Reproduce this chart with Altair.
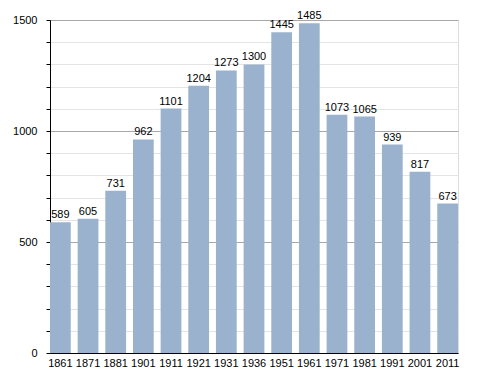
import altair as alt
import pandas as pd

years = ["1861", "1871", "1881", "1901", "1911", "1921", "1931", "1936", "1951", "1961",
         "1971", "1981", "1991", "2001", "2011"]
population = [589, 605, 731, 962, 1101, 1204, 1273, 1300, 1445, 1485,
              1073, 1065, 939, 817, 673]
y_ticks = list(range(0, 1501, 100))

df = pd.DataFrame({"year": years, "pop": population})

FONT = "Liberation Sans"

x = alt.X("year:N", sort=years, title=None,
          scale=alt.Scale(paddingInner=0.25, paddingOuter=0),
          axis=alt.Axis(labelAngle=0, ticks=False, domainColor="#000000",
                        labelFont=FONT, labelFontSize=11, labelColor="#000000",
                        labelPadding=4, labelOverlap=False))
y = alt.Y("pop:Q", title=None,
          scale=alt.Scale(domain=[0, 1500], nice=False),
          axis=alt.Axis(values=y_ticks,
                        labelExpr="datum.value % 500 === 0 ? datum.label : ''",
                        format="d",
                        labelOverlap=False,
                        grid=True,
                        gridColor=alt.condition("datum.value % 500 === 0",
                                                alt.value("#a8a8a8"), alt.value("#e4e4e4")),
                        gridWidth=1,
                        domainColor="#000000", tickColor="#000000", tickSize=4,
                        labelFont=FONT, labelFontSize=11, labelColor="#000000",
                        labelPadding=9))

bars = alt.Chart(df).mark_bar(color="#9ab2cd").encode(x=x, y=y)
labels = alt.Chart(df).mark_text(dy=-7, font=FONT, fontSize=11, color="#000000").encode(
    x=x, y=y, text="pop:Q")

chart = (bars + labels).properties(
    width=408, height=333,
    autosize=alt.AutoSizeParams(type="none"),
    padding={"left": 42, "top": 12, "right": 10, "bottom": 16},
).configure_view(stroke=None).configure(background="#ffffff")

chart.save("out.html", embed_options={"renderer": "svg", "actions": False})
